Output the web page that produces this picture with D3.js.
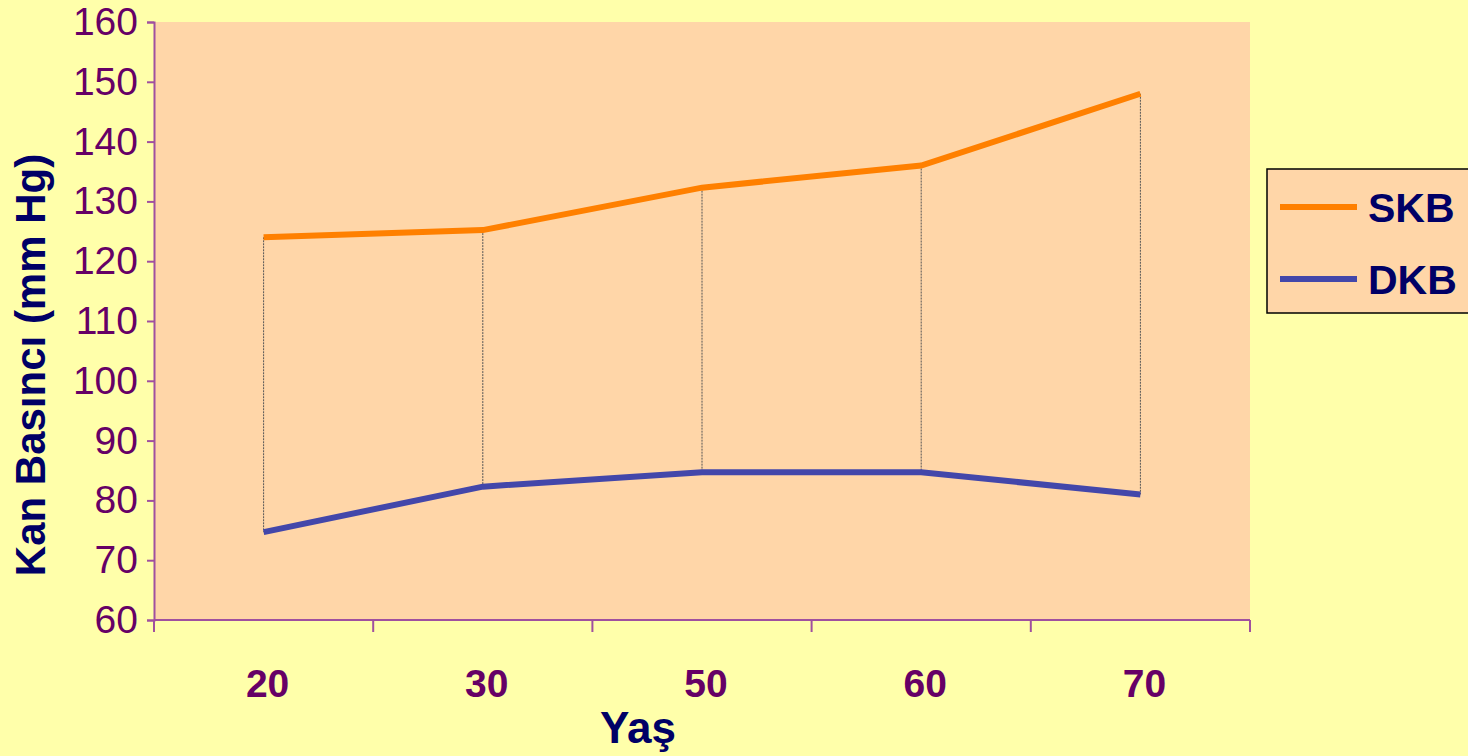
<!DOCTYPE html>
<html>
<head>
<meta charset="utf-8">
<script src="https://cdn.jsdelivr.net/npm/d3@7"></script>
<style>
  html, body { margin: 0; padding: 0; background: #FFFFAA; }
  svg { display: block; }
</style>
</head>
<body>
<svg id="chart" width="1468" height="756"></svg>
<script>
// Blood pressure by age group
const ages = ["20", "30", "50", "60", "70"];
const skb = [124, 125.2, 132.3, 136, 148];
const dkb = [74.7, 82.3, 84.7, 84.7, 81];
const yTicks = [60, 70, 80, 90, 100, 110, 120, 130, 140, 150, 160];
const seriesNames = ["SKB", "DKB"];
const seriesColors = ["#FF8000", "#4347AA"];

(function () {
  const svg = d3.select("#chart");
  const plotLeft = 154, plotRight = 1250, plotTop = 22, plotBottom = 620;
  const axisColor = "#A0509F";
  const tickColor = "#660066";
  const titleColor = "#000066";
  const font = "Liberation Sans, Arial, sans-serif";

  svg.append("rect").attr("width", 1468).attr("height", 756).attr("fill", "#FFFFAA");
  svg.append("rect")
    .attr("x", plotLeft).attr("y", plotTop)
    .attr("width", plotRight - plotLeft).attr("height", plotBottom - plotTop)
    .attr("fill", "#FFD6A8");

  const x = d3.scaleBand().domain(ages).range([plotLeft, plotRight]);
  const y = d3.scaleLinear().domain([60, 160]).range([plotBottom, plotTop]);

  // Y axis
  const yAxis = svg.append("g").attr("transform", `translate(${plotLeft},0)`)
    .call(d3.axisLeft(y).tickValues(yTicks).tickSize(7).tickPadding(9).tickFormat(d3.format("d")));
  yAxis.select(".domain").attr("stroke", axisColor).attr("stroke-width", 2);
  yAxis.selectAll(".tick line").attr("stroke", axisColor).attr("stroke-width", 2);
  yAxis.selectAll(".tick text")
    .attr("fill", tickColor)
    .style("font-family", font)
    .style("font-size", "39px");

  // X axis: ticks at band boundaries, labels at band centres
  const xAxisG = svg.append("g");
  xAxisG.append("line")
    .attr("x1", plotLeft).attr("x2", plotRight).attr("y1", plotBottom).attr("y2", plotBottom)
    .attr("stroke", axisColor).attr("stroke-width", 2);
  const bounds = ages.map(a => x(a)).concat([plotRight]);
  xAxisG.selectAll("line.tk").data(bounds).join("line")
    .attr("class", "tk")
    .attr("x1", d => d).attr("x2", d => d)
    .attr("y1", plotBottom).attr("y2", plotBottom + 12)
    .attr("stroke", axisColor).attr("stroke-width", 2);
  xAxisG.selectAll("text").data(ages).join("text")
    .attr("x", d => x(d) + x.bandwidth() / 2 + 4)
    .attr("y", 697)
    .attr("text-anchor", "middle")
    .attr("fill", tickColor)
    .style("font-family", font)
    .style("font-weight", "bold")
    .style("font-size", "39px")
    .text(d => d);

  const cx = d => x(d) + x.bandwidth() / 2;

  // High-low drop lines between the two series
  svg.append("g").selectAll("line").data(ages).join("line")
    .attr("x1", cx).attr("x2", cx)
    .attr("y1", (d, i) => y(skb[i])).attr("y2", (d, i) => y(dkb[i]))
    .attr("stroke", "#555")
    .attr("stroke-width", 1)
    .attr("stroke-dasharray", "2,1");

  const line = d3.line().x((d, i) => cx(ages[i])).y(d => y(d));
  [skb, dkb].forEach((vals, k) => {
    svg.append("path")
      .datum(vals)
      .attr("d", line)
      .attr("fill", "none")
      .attr("stroke", seriesColors[k])
      .attr("stroke-width", 6)
      .attr("stroke-linejoin", "miter");
  });

  // Axis titles
  svg.append("text")
    .attr("transform", "translate(45,365) rotate(-90)")
    .attr("text-anchor", "middle")
    .attr("fill", titleColor)
    .style("font-family", font)
    .style("font-weight", "bold")
    .style("font-size", "42px")
    .text("Kan Basıncı (mm Hg)");

  svg.append("text")
    .attr("x", 638).attr("y", 743)
    .attr("text-anchor", "middle")
    .attr("fill", titleColor)
    .style("font-family", font)
    .style("font-weight", "bold")
    .style("font-size", "44px")
    .text("Yaş");

  // Legend
  const legend = svg.append("g");
  legend.append("rect")
    .attr("x", 1267).attr("y", 169)
    .attr("width", 220).attr("height", 144)
    .attr("fill", "#FFD6A8")
    .attr("stroke", "#000").attr("stroke-width", 1.5);
  const legY = [207, 279];
  seriesNames.forEach((name, k) => {
    legend.append("line")
      .attr("x1", 1280).attr("x2", 1357)
      .attr("y1", legY[k]).attr("y2", legY[k])
      .attr("stroke", seriesColors[k]).attr("stroke-width", 6);
    legend.append("text")
      .attr("x", 1368).attr("y", legY[k] + 15)
      .attr("fill", titleColor)
      .style("font-family", font)
      .style("font-weight", "bold")
      .style("font-size", "41px")
      .text(name);
  });
})();
</script>
</body>
</html>
